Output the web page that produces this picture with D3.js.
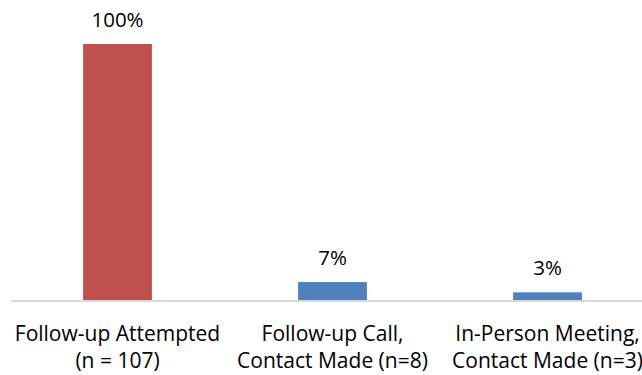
<!DOCTYPE html>
<html>
<head>
<meta charset="utf-8">
<script src="https://cdn.jsdelivr.net/npm/d3@7"></script>
<style>
  html, body { margin: 0; padding: 0; background: #fff; }
  svg { display: block; font-family: "Open Sans", sans-serif; }
</style>
</head>
<body>
<svg id="chart" width="642" height="375"></svg>
<script>
const categories = [
  ["Follow-up Attempted", "(n = 107)"],
  ["Follow-up Call,", "Contact Made (n=8)"],
  ["In-Person Meeting,", "Contact Made (n=3)"]
];
const values = [1.00, 0.07, 0.03];
const barColors = ["#c0504d", "#4f81bd", "#4f81bd"];

const svg = d3.select("#chart");
const keys = categories.map((c, i) => i);

const x = d3.scaleBand().domain(keys).range([10, 655]).paddingInner(0.68).paddingOuter(0.34);
const y = d3.scaleLinear().domain([0, 1]).range([300, 44]);
const fmt = d3.format(".0%");

// bars
svg.selectAll("rect.bar").data(values).join("rect")
  .attr("class", "bar")
  .attr("x", (d, i) => x(i))
  .attr("width", x.bandwidth())
  .attr("y", d => y(d))
  .attr("height", d => y(0) - y(d))
  .attr("fill", (d, i) => barColors[i]);

// baseline axis
svg.append("line")
  .attr("x1", 11).attr("x2", 642)
  .attr("y1", y(0) + 1).attr("y2", y(0) + 1)
  .attr("stroke", "#d9d9d9").attr("stroke-width", 2);

// value labels
svg.selectAll("text.val").data(values).join("text")
  .attr("class", "val")
  .attr("x", (d, i) => x(i) + x.bandwidth() / 2)
  .attr("y", d => y(d) - 17)
  .attr("text-anchor", "middle")
  .attr("font-size", 20.5)
  .attr("fill", "#000")
  .text(d => fmt(d));

// category labels
const cat = svg.selectAll("text.cat").data(categories).join("text")
  .attr("class", "cat")
  .attr("text-anchor", "middle")
  .attr("font-size", 21)
  .attr("fill", "#000");
cat.selectAll("tspan").data((d, i) => d.map(s => ({ s, i }))).join("tspan")
  .attr("x", d => x(d.i) + x.bandwidth() / 2)
  .attr("y", (d, j) => 341 + j * 27)
  .text(d => d.s);
</script>
</body>
</html>
